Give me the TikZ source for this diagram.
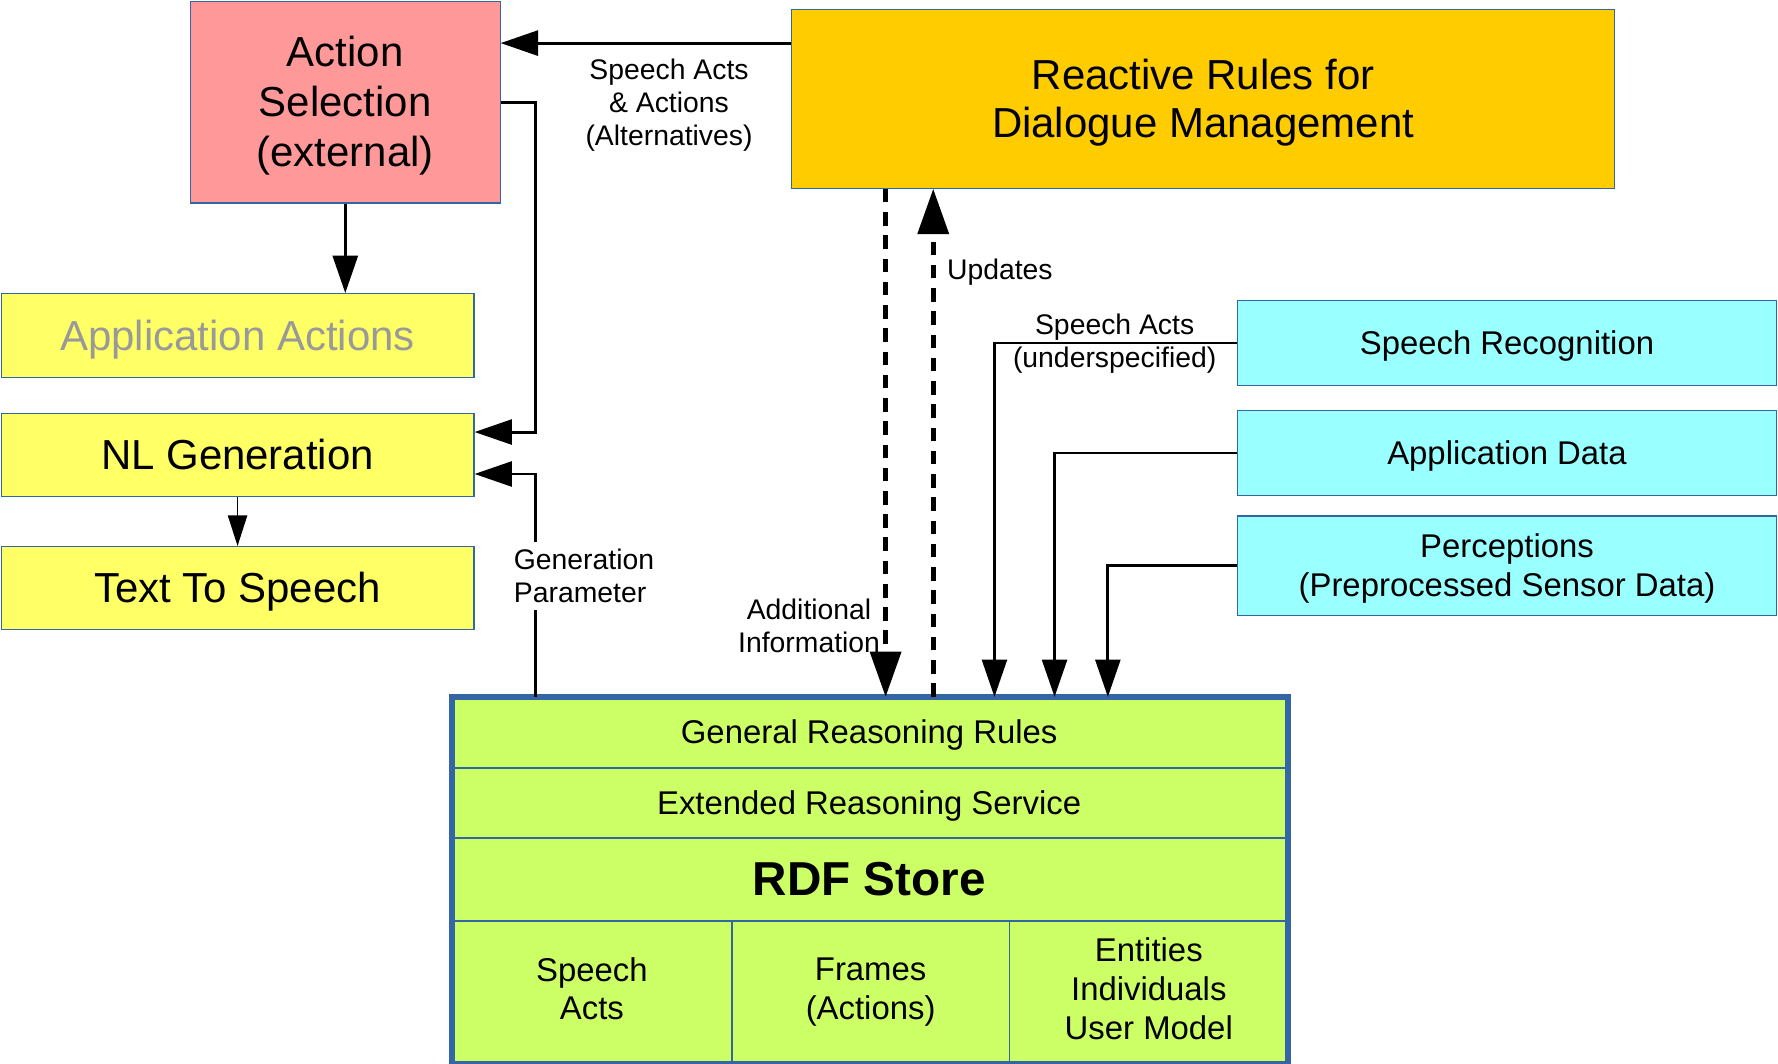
\documentclass[tikz,border=0pt]{standalone}
\usepackage{fontspec}
\setmainfont{Liberation Sans}
\usepackage{xcolor}
\usepackage{tikz}
\usetikzlibrary{positioning, arrows.meta, calc}
\definecolor{boxblue}{HTML}{3465A4}
\definecolor{selpink}{HTML}{FF9999}
\definecolor{outyellow}{HTML}{FFFF66}
\definecolor{ruleorange}{HTML}{FFCC00}
\definecolor{incyan}{HTML}{99FFFF}
\definecolor{storegreen}{HTML}{CCFF66}
\newcommand{\linestrut}{\rule[-0.212em]{0pt}{1.117em}}
\tikzset{lines/.style={
    execute at begin node=\linestrut,
    execute at end node=\linestrut
}}
\tikzset{module/.style={
    rectangle,
    draw=boxblue,
    line width=1pt,
    inner sep=2pt,
    align=center,
    lines,
    font=\fontsize{37}{44}\selectfont
}}
\tikzset{source/.style={
    module,
    fill=incyan,
    minimum width=476pt,
    font=\fontsize{29}{34}\selectfont
}}
\tikzset{cell/.style={
    rectangle,
    draw=boxblue,
    fill=storegreen,
    line width=0.8pt,
    align=center,
    lines,
    font=\fontsize{29}{34}\selectfont
}}
\tikzset{lbl/.style={
    align=center,
    inner sep=1pt,
    lines,
    font=\fontsize{25}{29.3}\selectfont
}}

\begin{document}
\begin{tikzpicture}[
    x=1pt, y=-1pt,
    >={Triangle[length=33pt,width=22pt]},
    link/.style={->, line width=2.6pt},
    datalink/.style={-{Triangle[length=40pt,width=27pt]}, line width=4.4pt, dash pattern=on 12pt off 8.5pt},
    text=black
]
    \useasboundingbox (0,0) rectangle (1568,937.5);
    % Left column
    \node (actsel) [module, fill=selpink, minimum width=273pt, minimum height=178pt] at (304.5,90) {\linestrut Action\\Selection\\(external)};
    \node (appact) [module, fill=outyellow, text=black!40, minimum width=417pt, minimum height=74pt] at (209.5,296) {Application Actions};
    \node (nlgen) [module, fill=outyellow, minimum width=417pt, minimum height=73pt, below=31pt of appact] {NL Generation};
    \node (tts) [module, fill=outyellow, minimum width=417pt, minimum height=73pt, below=43pt of nlgen] {Text To Speech};
    % Dialogue rules and inputs
    \node (reactive) [module, fill=ruleorange, minimum width=726pt, minimum height=158pt, font=\fontsize{37}{42}\selectfont] at (1061,87) {\linestrut Reactive Rules for\\Dialogue Management};
    \node (speechrec) [source, minimum height=75pt] at (1329,302.5) {Speech Recognition};
    \node (appdata) [source, minimum height=75pt, below=21pt of speechrec] {Application Data};
    \node (percept) [source, minimum height=88pt, below=17pt of appdata] {\linestrut Perceptions\\(Preprocessed Sensor Data)};
    % RDF store
    \node (grr) [cell, minimum width=735pt, minimum height=62pt] at (766.5,646) {General Reasoning Rules};
    \node (ers) [cell, minimum width=735pt, minimum height=61pt, below=0pt of grr] {Extended Reasoning Service};
    \node (rdf) [cell, minimum width=735pt, minimum height=72pt, below=0pt of ers, font=\bfseries\fontsize{42}{50}\selectfont] {RDF Store};
    \node (sacts) [cell, minimum width=246pt, minimum height=125pt, anchor=north west] at (rdf.south west) {Speech\\Acts};
    \node (frames) [cell, minimum width=244pt, minimum height=125pt, anchor=north west] at (sacts.north east) {Frames\\(Actions)};
    \node (ents) [cell, minimum width=245pt, minimum height=125pt, anchor=north west] at (frames.north east) {Entities\\Individuals\\User Model};
    \draw [boxblue, line width=5pt] (grr.north west) rectangle (ents.south east);
    % helper columns and rows
    \coordinate (colG) at (472,0);
    \coordinate (colA) at (781,0);
    \coordinate (colU) at (823,0);
    \coordinate (colS) at (877,0);
    \coordinate (colD) at (930,0);
    \coordinate (colP) at (977,0);
    \coordinate (rowT) at (0,38);
    \coordinate (rowN) at (0,381);
    \coordinate (rowG) at (0,418);
    % connectors
    \draw [link] (reactive.west |- rowT) -- (actsel.east |- rowT);
    \draw [link] (actsel.south) -- (actsel.south |- appact.north);
    \draw [link] (actsel.east) -| (colG |- rowN) -- (nlgen.east |- rowN);
    \draw [link] (grr.north -| colG) |- (nlgen.east |- rowG);
    \draw [-{Triangle[length=27pt,width=17pt]}, line width=1.3pt] (nlgen.south) -- (tts.north);
    \draw [datalink] (reactive.south -| colA) -- (grr.north -| colA);
    \draw [datalink] (grr.north -| colU) -- (reactive.south -| colU);
    \draw [link] (speechrec.west) -| (grr.north -| colS);
    \draw [link] (appdata.west) -| (grr.north -| colD);
    \draw [link] (percept.west) -| (grr.north -| colP);
    % labels
    \node (altlbl) [lbl] at (590,90.5) {\linestrut Speech Acts\\\& Actions\\(Alternatives)};
    \node (updlbl) [lbl, anchor=west] at (834,238) {Updates};
    \node (srlbl) [lbl] at (983,301) {\linestrut Speech Acts\\(underspecified)};
    \node (genlbl) [lbl, anchor=west, align=left, fill=white] at (452,508) {\linestrut Generation\\Parameter};
    \node (addlbl) [lbl] at (713.5,552.5) {\linestrut Additional\\Information};
\end{tikzpicture}
\end{document}
